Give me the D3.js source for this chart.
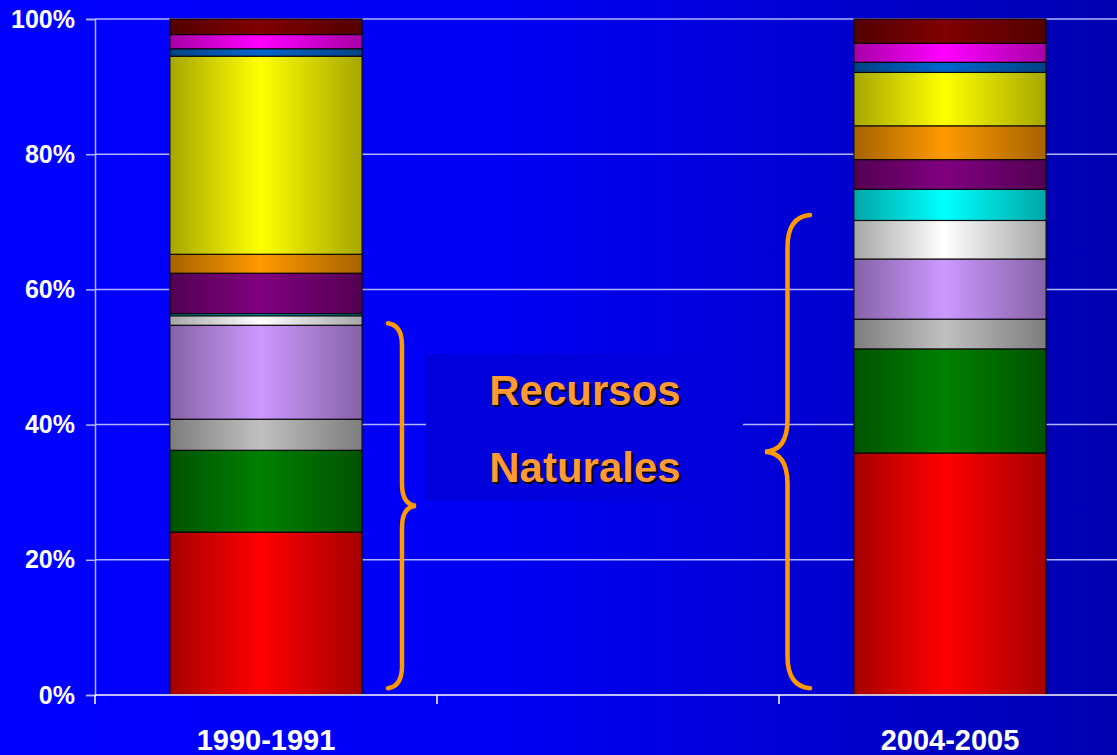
<!DOCTYPE html>
<html>
<head>
<meta charset="utf-8">
<script src="https://cdn.jsdelivr.net/npm/d3@7"></script>
<style>
  body { margin: 0; background: #0000ff; }
  svg { display: block; font-family: Arial, "Liberation Sans", sans-serif; }
</style>
</head>
<body>
<svg width="1117" height="755"></svg>
<script>
// periodos (la columna del medio queda vacia)
var periods = ["1990-1991", "2004-2005"];
var bandDomain = [periods[0], "gap", periods[1]];

// participacion (%) de cada rubro, de abajo hacia arriba
var keys = ["s1","s2","s3","s4","s5","s6","s7","s8","s9","s10","s11","s12"];
var values1990 = [24.1, 12.1, 4.6, 13.9, 1.4, 0.3, 6.0, 2.8, 29.3, 1.1, 2.1, 2.3];
var values2004 = [35.8, 15.4, 4.4, 8.9, 5.7, 4.6, 4.4, 5.0, 7.9, 1.5, 2.8, 3.6];
var colors = ["#ff0000","#008000","#c0c0c0","#cc99ff","#ffffff","#00ffff",
              "#800080","#ff9900","#ffff00","#0066cc","#ff00ff","#800000"];
var yTicks = [0, 20, 40, 60, 80, 100];

// llaves: [desde %, hasta %, periodo, lado]
var braceFrom = [1, 1];
var braceTo = [55, 71];
var label = ["Recursos", "Naturales"];

var svg = d3.select("svg");
var width = 1117, height = 755;

var x = d3.scaleBand().domain(bandDomain).range([95, 1121]);
var y = d3.scaleLinear().domain([0, 100]).range([695, 19]);
var barW = x.bandwidth() * 0.562;

var defs = svg.append("defs");

// fondo
var bg = defs.append("linearGradient").attr("id", "bg")
    .attr("x1", 0).attr("x2", 1).attr("y1", 0).attr("y2", 0);
bg.append("stop").attr("offset", 0).attr("stop-color", "#0000ff");
bg.append("stop").attr("offset", 0.45).attr("stop-color", "#0000f4");
bg.append("stop").attr("offset", 1).attr("stop-color", "#0000b0");
svg.append("rect").attr("width", width).attr("height", height).attr("fill", "url(#bg)");

// gradiente de cada color (oscuro-claro-oscuro)
colors.forEach(function(c, i) {
  var g = defs.append("linearGradient").attr("id", "g" + i)
      .attr("x1", 0).attr("x2", 1).attr("y1", 0).attr("y2", 0);
  var dark = d3.rgb(c); dark = d3.rgb(dark.r * 0.65, dark.g * 0.65, dark.b * 0.65);
  g.append("stop").attr("offset", 0).attr("stop-color", dark);
  g.append("stop").attr("offset", 0.47).attr("stop-color", c);
  g.append("stop").attr("offset", 1).attr("stop-color", dark);
});

// lineas de grilla
svg.append("g").selectAll("line").data(yTicks.slice(1)).enter().append("line")
    .attr("x1", 95).attr("x2", width)
    .attr("y1", d => y(d)).attr("y2", d => y(d))
    .attr("stroke", "#b4b4ff").attr("stroke-width", 1.5);

// eje y
var yAxis = svg.append("g")
    .attr("transform", "translate(95,0)")
    .call(d3.axisLeft(y).tickValues(yTicks).tickFormat(d => d + "%").tickSize(9).tickPadding(11));
yAxis.select(".domain").attr("stroke", "#b4b4ff").attr("stroke-width", 1.5);
yAxis.selectAll(".tick line").attr("stroke", "#b4b4ff").attr("stroke-width", 1.5);
yAxis.selectAll(".tick text").attr("fill", "#ffffff").attr("font-size", 25)
    .attr("font-weight", "bold").attr("font-family", "Arial, 'Liberation Sans', sans-serif");

// barras apiladas
var table = [
  Object.assign({period: periods[0]}, ...keys.map((k, i) => ({[k]: values1990[i]}))),
  Object.assign({period: periods[1]}, ...keys.map((k, i) => ({[k]: values2004[i]})))
];
var series = d3.stack().keys(keys)(table);

svg.append("g").selectAll("g").data(series).enter().append("g")
    .attr("fill", (d, i) => "url(#g" + i + ")")
  .selectAll("rect").data(d => d).enter().append("rect")
    .attr("x", d => x(d.data.period) + (x.bandwidth() - barW) / 2)
    .attr("y", d => y(d[1]))
    .attr("width", barW)
    .attr("height", d => y(d[0]) - y(d[1]))
    .attr("stroke", "#000").attr("stroke-opacity", 0.85).attr("stroke-width", 1.2);

// eje x
svg.append("line").attr("x1", 95).attr("x2", width).attr("y1", y(0)).attr("y2", y(0))
    .attr("stroke", "#ffffff").attr("stroke-width", 1.5);
svg.append("g").selectAll("line").data(bandDomain).enter().append("line")
    .attr("x1", d => x(d)).attr("x2", d => x(d))
    .attr("y1", y(0)).attr("y2", y(0) + 9)
    .attr("stroke", "#ffffff").attr("stroke-width", 1.5);
svg.append("g").selectAll("text").data(periods).enter().append("text")
    .attr("x", d => x(d) + x.bandwidth() / 2)
    .attr("y", 750)
    .attr("text-anchor", "middle")
    .attr("fill", "#ffffff").attr("font-size", 29).attr("font-weight", "bold")
    .text(d => d);

// llaves
function brace(xEnd, xTip, y0, y1, r) {
  var xm = (xEnd + xTip) / 2, ym = (y0 + y1) / 2;
  return "M" + xEnd + "," + y0 +
    "Q" + xm + "," + (y0 + 2) + " " + xm + "," + (y0 + r) +
    "L" + xm + "," + (ym - r) +
    "Q" + xm + "," + (ym - 1) + " " + xTip + "," + ym +
    "Q" + xm + "," + (ym + 1) + " " + xm + "," + (ym + r) +
    "L" + xm + "," + (y1 - r) +
    "Q" + xm + "," + (y1 - 2) + " " + xEnd + "," + y1;
}
svg.append("path")
    .attr("d", brace(388, 416, y(braceTo[0]), y(braceFrom[0]), 22))
    .attr("fill", "none").attr("stroke", "#ff9900").attr("stroke-width", 4.5).attr("stroke-linecap", "round");
svg.append("path")
    .attr("d", brace(810, 765, y(braceTo[1]), y(braceFrom[1]), 32))
    .attr("fill", "none").attr("stroke", "#ff9900").attr("stroke-width", 4.5).attr("stroke-linecap", "round");

// cuadro de texto
svg.append("rect").attr("x", 426).attr("y", 354).attr("width", 317).attr("height", 147)
    .attr("fill", "#0000dc");
label.forEach(function(t, i) {
  svg.append("text").attr("x", 587).attr("y", 407 + i * 77)
      .attr("text-anchor", "middle").attr("font-size", 42).attr("font-weight", "bold")
      .attr("fill", "#000000").text(t);
  svg.append("text").attr("x", 585).attr("y", 405 + i * 77)
      .attr("text-anchor", "middle").attr("font-size", 42).attr("font-weight", "bold")
      .attr("fill", "#ff9933").text(t);
});
</script>
</body>
</html>
